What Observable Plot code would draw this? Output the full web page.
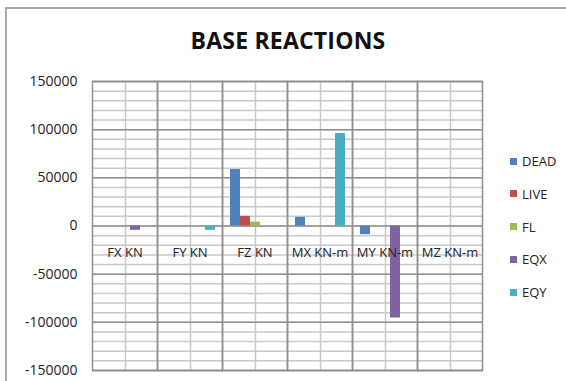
<!DOCTYPE html>
<html>
<head>
<meta charset="utf-8">
<script src="https://cdn.jsdelivr.net/npm/d3@7"></script>
<script src="https://cdn.jsdelivr.net/npm/@observablehq/plot@0.6"></script>
<style>
  html, body { margin: 0; padding: 0; background: #fff; }
  #wrap { position: relative; width: 566px; height: 381px; overflow: hidden; background: #fff; }
  #border { position: absolute; left: 5px; top: 7px; width: 620px; height: 420px;
            border: 2px solid #a9a9a9; box-sizing: border-box; }
  #title { position: absolute; left: 0; width: 576px; top: 24px; text-align: center;
           font: bold 23px "Open Sans", sans-serif; color: #111; letter-spacing: 0.2px; }
  #chart { position: absolute; left: 0; top: 0; }
  #legend { position: absolute; left: 0; top: 0; font: 13px "Open Sans", sans-serif; color: #222; }
  .item { position: absolute; left: 510px; display: flex; align-items: center; height: 16px; white-space: nowrap; }
  .sw { width: 7px; height: 7px; margin-right: 5px; }
</style>
</head>
<body>
<div id="wrap">
  <div id="border"></div>
  <div id="chart"></div>
  <div id="title">BASE REACTIONS</div>
  <div id="legend"></div>
</div>
<script>
// Reaction components and load cases
const categories = ["FX KN", "FY KN", "FZ KN", "MX KN-m", "MY KN-m", "MZ KN-m"];
const series = ["DEAD", "LIVE", "FL", "EQX", "EQY"];
const colors = ["#4f81bd", "#c0504d", "#9bbb59", "#8064a2", "#4bacc6"];

// Values per load case, one entry per reaction component
const dead = [0, 0, 58600, 9000, -9000, 0];
const live = [0, 0, 10000, 0, 0, 0];
const fl   = [0, 0, 4000, 0, 0, 0];
const eqx  = [-4500, 0, 0, 0, -95500, 0];
const eqy  = [0, -4500, 0, 96000, 0, 0];

// Axis ticks
const majorTicks = [-150000, -100000, -50000, 0, 50000, 100000, 150000];
const minorTicks = d3.range(-150000, 150001, 10000);

const valuesBySeries = [dead, live, fl, eqx, eqy];
const rows = [];
series.forEach((s, si) => {
  categories.forEach((c, ci) => {
    rows.push({cat: c, series: s, value: valuesBySeries[si][ci]});
  });
});

const chart = Plot.plot({
  width: 566,
  height: 381,
  marginLeft: 91,
  marginRight: 83,
  marginTop: 81,
  marginBottom: 11,
  style: {background: "transparent", fontFamily: "'Open Sans', sans-serif"},
  fx: {domain: categories, padding: 0, axis: null},
  x: {domain: series, paddingInner: 0, paddingOuter: 0.75, axis: null},
  y: {domain: [-150000, 150000], axis: null},
  color: {domain: series, range: colors},
  marks: [
    Plot.ruleY(minorTicks, {stroke: "#c9c9c9", strokeWidth: 1.5}),
    Plot.ruleX(["FL"], {stroke: "#c9c9c9", strokeWidth: 1.5}),
    Plot.ruleY(majorTicks, {stroke: "#8f8f8f", strokeWidth: 1.5}),
    Plot.frame({stroke: "#8f8f8f", strokeWidth: 1.5}),
    Plot.barY(rows, {fx: "cat", x: "series", y: "value", fill: "series"}),
    Plot.text(categories, {fx: d => d, y: 0, dy: 27, frameAnchor: "middle",
                           text: d => d, fontSize: 13, fill: "#222"}),
    Plot.axisY(majorTicks, {tickSize: 0, tickPadding: 15, tickFormat: d => String(d),
                            label: null, fontSize: 14, fill: "#222"})
  ]
});
document.getElementById("chart").appendChild(chart);

// Legend swatches on the right
const legend = document.getElementById("legend");
series.forEach((s, i) => {
  const item = document.createElement("div");
  item.className = "item";
  item.style.top = (161 + i * 32.75 - 8) + "px";
  const sw = document.createElement("span");
  sw.className = "sw";
  sw.style.background = colors[i];
  const label = document.createElement("span");
  label.textContent = s;
  item.appendChild(sw);
  item.appendChild(label);
  legend.appendChild(item);
});
</script>
</body>
</html>
